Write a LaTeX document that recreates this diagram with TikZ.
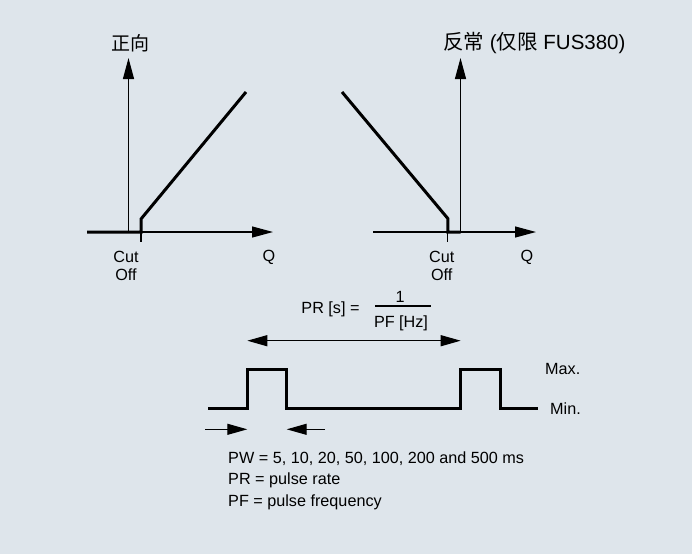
\documentclass[tikz,border=0pt]{standalone}
\usepackage{fontspec}
\setmainfont{Liberation Sans}
\newfontfamily\cjk{Noto Sans CJK SC}
\usetikzlibrary{arrows.meta}
\definecolor{bg}{RGB}{222,229,235}
\definecolor{ink}{RGB}{0,0,0}
\tikzset{
  axis/.style={line width=1.2pt, draw=ink, -{Triangle[length=21pt,width=11pt]}},
  thinline/.style={line width=1.2pt, draw=ink},
  curve/.style={line width=3pt, draw=ink, line join=miter},
  pulse/.style={line width=3pt, draw=ink, line join=miter},
  lbl/.style={font=\fontsize{16.2}{18.5}\selectfont, inner sep=0pt, text=ink},
  ttl/.style={font=\fontsize{19}{22}\selectfont, inner sep=0pt, text=ink},
  ttlb/.style={font=\fontsize{20.5}{22}\selectfont, inner sep=0pt, text=ink},
  dim/.style={line width=1.2pt, draw=ink, {Triangle[length=20pt,width=11pt]}-{Triangle[length=20pt,width=11pt]}},
  pwarr/.style={line width=1.2pt, draw=ink, -{Triangle[length=20pt,width=11pt]}},
}
\begin{document}
\begin{tikzpicture}[x=1pt,y=-1pt]
\fill[bg] (0,0) rectangle (692,554);
\useasboundingbox (0,0) rectangle (692,554);
% ---------- left graph ----------
\coordinate (lo) at (128.5,232);
\coordinate (lyt) at (128.5,58);
\coordinate (lxs) at (87,232);
\coordinate (lxe) at (273,232);
\coordinate (lc) at (141,232);
\coordinate (lcs) at (141,219);
\coordinate (lce) at (246,92);
\coordinate (ltk) at (141,242);
\draw[axis] (lo) -- (lyt);
\draw[axis] (lxs) -- (lxe);
\draw[thinline] (lc) -- (ltk);
\draw[curve] (lxs) -- (lc) -- (lcs) -- (lce);
\node[ttl] (ltitle) at (130,43) {\cjk 正向};
\node[lbl, align=center] (lcut) at (126,266) {Cut\\Off};
\node[lbl] (lq) at (269,257) {Q};
% ---------- right graph ----------
\coordinate (ro) at (460.5,232);
\coordinate (ryt) at (460.5,58);
\coordinate (rxs) at (373,232);
\coordinate (rxe) at (536,232);
\coordinate (rc) at (447.8,232);
\coordinate (rcs) at (447.8,218.5);
\coordinate (rce) at (342,92);
\coordinate (rtk) at (447.8,242);
\draw[axis] (ro) -- (ryt);
\draw[axis] (rxs) -- (rxe);
\draw[thinline] (rc) -- (rtk);
\draw[curve] (rce) -- (rcs) -- (rc) -- (ro);
\node[ttlb, anchor=west] (rtitle) at (443,43) {{\cjk 反常} ({\cjk 仅限} FUS380)};
\node[lbl, align=center] (rcut) at (441.7,266) {Cut\\Off};
\node[lbl] (rq) at (527,257) {Q};
% ---------- formula ----------
\node[lbl] (pr) at (330.5,309) {PR [s] =};
\node[lbl] (one) at (400,297) {1};
\node[lbl] (pf) at (401,323) {PF [Hz]};
\coordinate (fs) at (375,306);
\coordinate (fe) at (431,306);
\draw[thinline] (fs) -- (fe);
% ---------- period arrow ----------
\coordinate (ps) at (247.3,340.7);
\coordinate (pe) at (460.7,340.7);
\draw[dim] (ps) -- (pe);
% ---------- pulse train ----------
\coordinate (p0) at (208,408.3);
\coordinate (p1) at (247.3,408.3);
\coordinate (p2) at (247.3,369.3);
\coordinate (p3) at (286.7,369.3);
\coordinate (p4) at (286.7,408.3);
\coordinate (p5) at (460,408.3);
\coordinate (p6) at (460,369.3);
\coordinate (p7) at (500,369.3);
\coordinate (p8) at (500,408.3);
\coordinate (p9) at (538.3,408.3);
\draw[pulse] (p0) -- (p1) -- (p2) -- (p3) -- (p4) -- (p5) -- (p6) -- (p7) -- (p8) -- (p9);
\node[lbl, anchor=west] (max) at (545,369.3) {Max.};
\node[lbl, anchor=west] (min) at (550,408.3) {Min.};
% ---------- pulse width arrows ----------
\coordinate (w0) at (205,429.3);
\coordinate (w1) at (247.3,429.3);
\coordinate (w2) at (286.7,429.3);
\coordinate (w3) at (325,429.3);
\draw[pwarr] (w0) -- (w1);
\draw[pwarr] (w3) -- (w2);
% ---------- legend ----------
\node[lbl, anchor=west] (leg1) at (228,459) {PW = 5, 10, 20, 50, 100, 200 and 500 ms};
\node[lbl, anchor=west] (leg2) at (228,480.5) {PR = pulse rate};
\node[lbl, anchor=west] (leg3) at (228,502) {PF = pulse frequency};
\end{tikzpicture}
\end{document}
